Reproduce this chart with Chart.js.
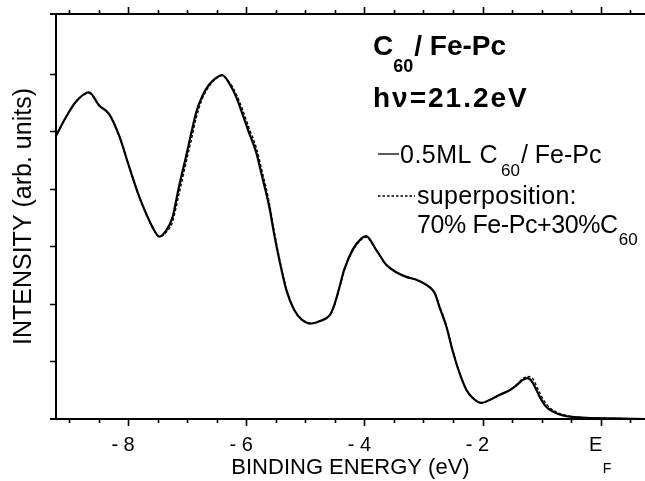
<!DOCTYPE html>
<html>
<head>
<meta charset="utf-8">
<script src="https://cdn.jsdelivr.net/npm/chart.js@4.4.1/dist/chart.umd.min.js"></script>
<style>
  html, body { margin: 0; padding: 0; background: #fff; }
  #wrap { width: 645px; height: 481px; position: relative; }
</style>
</head>
<body>
<div id="wrap"><canvas id="c" width="645" height="481"></canvas></div>
<script>
// ---- data ----
const ENERGY = [-9.22,-9.05,-8.88,-8.66,-8.49,-8.32,-8.15,-7.98,-7.81,-7.69,-7.59,-7.47,-7.36,-7.25,-7.14,-7.02,-6.93,-6.85,-6.75,-6.63,-6.51,-6.41,-6.29,-6.17,-6.07,-5.95,-5.83,-5.73,-5.61,-5.53,-5.44,-5.32,-5.19,-5.05,-4.9,-4.76,-4.59,-4.51,-4.42,-4.34,-4.2,-4.05,-3.97,-3.8,-3.63,-3.46,-3.29,-3.12,-2.95,-2.81,-2.73,-2.61,-2.51,-2.39,-2.27,-2.17,-2.02,-1.88,-1.71,-1.54,-1.42,-1.32,-1.24,-1.15,-1.03,-0.92,-0.75,-0.53,-0.24,0.2,0.75];
const MEASURED = [4.92,5.25,5.52,5.68,5.45,5.3,4.92,4.38,3.86,3.56,3.34,3.17,3.27,3.5,4.03,4.56,4.97,5.32,5.6,5.81,5.93,5.98,5.84,5.6,5.32,4.97,4.63,4.21,3.69,3.23,2.77,2.24,1.9,1.72,1.66,1.7,1.8,1.98,2.3,2.6,2.94,3.14,3.18,2.94,2.68,2.55,2.47,2.42,2.33,2.19,1.95,1.6,1.2,0.8,0.5,0.37,0.28,0.33,0.42,0.5,0.59,0.68,0.71,0.63,0.38,0.21,0.1,0.04,0.02,0.01,0.0];
const SUPERPOSITION = [4.92,5.25,5.52,5.66,5.45,5.3,4.92,4.38,3.86,3.56,3.34,3.17,3.24,3.42,3.9,4.45,4.85,5.22,5.55,5.78,5.92,5.97,5.86,5.65,5.4,5.05,4.72,4.3,3.76,3.28,2.8,2.26,1.9,1.72,1.66,1.7,1.8,1.96,2.28,2.58,2.92,3.12,3.16,2.94,2.68,2.55,2.47,2.42,2.33,2.2,1.97,1.62,1.22,0.8,0.5,0.37,0.28,0.33,0.42,0.5,0.6,0.7,0.74,0.7,0.45,0.26,0.12,0.05,0.02,0.01,0.0];
const X_MAJOR = [-8,-6,-4,-2,0];
const X_MINOR = [-9,-8.5,-7.5,-7,-6.5,-5.5,-5,-4.5,-3.5,-3,-2.5,-1.5,-1,-0.5,0.5];
const Y_TICKS = [1,2,3,4,5,6];
const X_MIN = -9.22, X_MAX = 0.75, Y_MIN = 0, Y_MAX = 7.04;
const SERIES_NAMES = ['0.5ML C60/ Fe-Pc', 'superposition: 70% Fe-Pc+30%C60'];

const FONT = "'Liberation Sans', Arial, Helvetica, sans-serif";

function pts(ys) { return ENERGY.map((x, i) => ({x: x, y: ys[i]})); }

function labelFor(v) {
  if (v === 0) return 'E';
  return '- ' + Math.abs(v);
}

const decor = {
  id: 'decor',
  afterDraw(chart) {
    const ctx = chart.ctx;
    const xs = chart.scales.x, ys = chart.scales.y;
    const a = chart.chartArea;
    ctx.save();
    ctx.strokeStyle = '#000';
    ctx.fillStyle = '#000';
    // top axis line and left extensions
    ctx.lineWidth = 2;
    ctx.beginPath();
    ctx.moveTo(50, a.top); ctx.lineTo(a.right, a.top);
    ctx.moveTo(50, a.bottom); ctx.lineTo(a.left, a.bottom);
    ctx.stroke();
    // x ticks bottom (down) and top (up)
    const all = X_MAJOR.map(v => [v, 7]).concat(X_MINOR.map(v => [v, 4]));
    ctx.beginPath();
    all.forEach(([v, len]) => {
      const px = Math.round(xs.getPixelForValue(v)) + 0.5;
      ctx.moveTo(px, a.bottom); ctx.lineTo(px, a.bottom + len);
      ctx.moveTo(px, a.top); ctx.lineTo(px, a.top - len);
    });
    ctx.lineWidth = 1.6;
    ctx.stroke();
    // y ticks left (outward)
    ctx.beginPath();
    Y_TICKS.forEach(v => {
      const py = Math.round(ys.getPixelForValue(v)) + 0.5;
      ctx.moveTo(a.left, py); ctx.lineTo(a.left - 6, py);
    });
    ctx.stroke();

    // subscript F of E_F
    const px0 = xs.getPixelForValue(0) - 5;
    ctx.font = '14px ' + FONT;
    ctx.textBaseline = 'alphabetic';
    ctx.textAlign = 'left';
    ctx.fillText('F', px0 + 7, 473);

    // Title block
    ctx.font = 'bold 28px ' + FONT;
    ctx.fillText('C', 373, 55);
    let w = ctx.measureText('C').width;
    ctx.font = 'bold 18px ' + FONT;
    ctx.fillText('60', 373 + w, 72);
    let w2 = ctx.measureText('60').width;
    ctx.font = 'bold 28px ' + FONT;
    ctx.fillText('/ Fe-Pc', 373 + w + w2 + 1, 55);

    ctx.letterSpacing = '2px';
    ctx.fillText('h\u03BD=21.2eV', 373, 107);
    ctx.letterSpacing = '0px';

    // legend
    ctx.lineWidth = 1.3;
    ctx.beginPath(); ctx.moveTo(378, 154); ctx.lineTo(399, 154); ctx.stroke();
    ctx.setLineDash([2.5, 2]);
    ctx.beginPath(); ctx.moveTo(378, 196); ctx.lineTo(415, 196); ctx.stroke();
    ctx.setLineDash([]);

    ctx.font = '25px ' + FONT;
    ctx.letterSpacing = '0.5px';
    ctx.fillText('0.5ML C', 400, 163);
    let w3 = ctx.measureText('0.5ML C').width;
    ctx.letterSpacing = '0px';
    ctx.font = '17px ' + FONT;
    ctx.fillText('60', 400 + w3 + 3, 176);
    let w4 = ctx.measureText('60').width;
    ctx.font = '25px ' + FONT;
    ctx.fillText('/ Fe-Pc', 400 + w3 + w4 + 4, 163);

    ctx.letterSpacing = '0.3px';
    ctx.fillText('superposition:', 417, 204);
    ctx.letterSpacing = '-0.4px';
    ctx.fillText('70% Fe-Pc+30%C', 417, 233);
    let w5 = ctx.measureText('70% Fe-Pc+30%C').width;
    ctx.letterSpacing = '0px';
    ctx.font = '17px ' + FONT;
    ctx.fillText('60', 417 + w5 + 1, 245);
    ctx.restore();
  }
};

new Chart(document.getElementById('c'), {
  type: 'line',
  data: {
    datasets: [
      {
        label: SERIES_NAMES[0],
        data: pts(MEASURED),
        borderColor: '#000',
        borderWidth: 2.2,
        pointRadius: 0,
        fill: false,
        cubicInterpolationMode: 'monotone'
      },
      {
        label: SERIES_NAMES[1],
        data: pts(SUPERPOSITION),
        borderColor: '#000',
        borderWidth: 1.4,
        borderDash: [3, 2],
        pointRadius: 0,
        fill: false,
        cubicInterpolationMode: 'monotone'
      }
    ]
  },
  options: {
    responsive: false,
    animation: false,
    devicePixelRatio: 1,
    layout: { padding: { top: 14, left: 0, right: 0, bottom: 0 } },
    plugins: { legend: { display: false }, tooltip: { enabled: false } },
    scales: {
      x: {
        type: 'linear',
        position: 'bottom',
        min: X_MIN, max: X_MAX,
        afterBuildTicks: s => { s.ticks = X_MAJOR.map(v => ({value: v})); },
        afterFit: s => { s.height = 62; },
        grid: { display: false, drawTicks: false },
        border: { display: true, color: '#000', width: 2 },
        ticks: {
          color: '#000',
          font: { family: FONT, size: 20 },
          padding: 14,
          labelOffset: -5,
          maxRotation: 0,
          autoSkip: false,
          callback: v => labelFor(v)
        },
        title: {
          display: true,
          text: 'BINDING ENERGY (eV)',
          color: '#000',
          font: { family: FONT, size: 22 },
          padding: { top: 0, bottom: 0 }
        }
      },
      y: {
        type: 'linear',
        position: 'left',
        min: Y_MIN, max: Y_MAX,
        afterFit: s => { s.width = 56; },
        grid: { display: false, drawTicks: false },
        border: { display: true, color: '#000', width: 2 },
        ticks: { display: false },
        title: {
          display: true,
          text: 'INTENSITY (arb. units)',
          color: '#000',
          font: { family: FONT, size: 25 },
          padding: { top: 9, bottom: 0 }
        }
      }
    }
  },
  plugins: [decor]
});
</script>
</body>
</html>
